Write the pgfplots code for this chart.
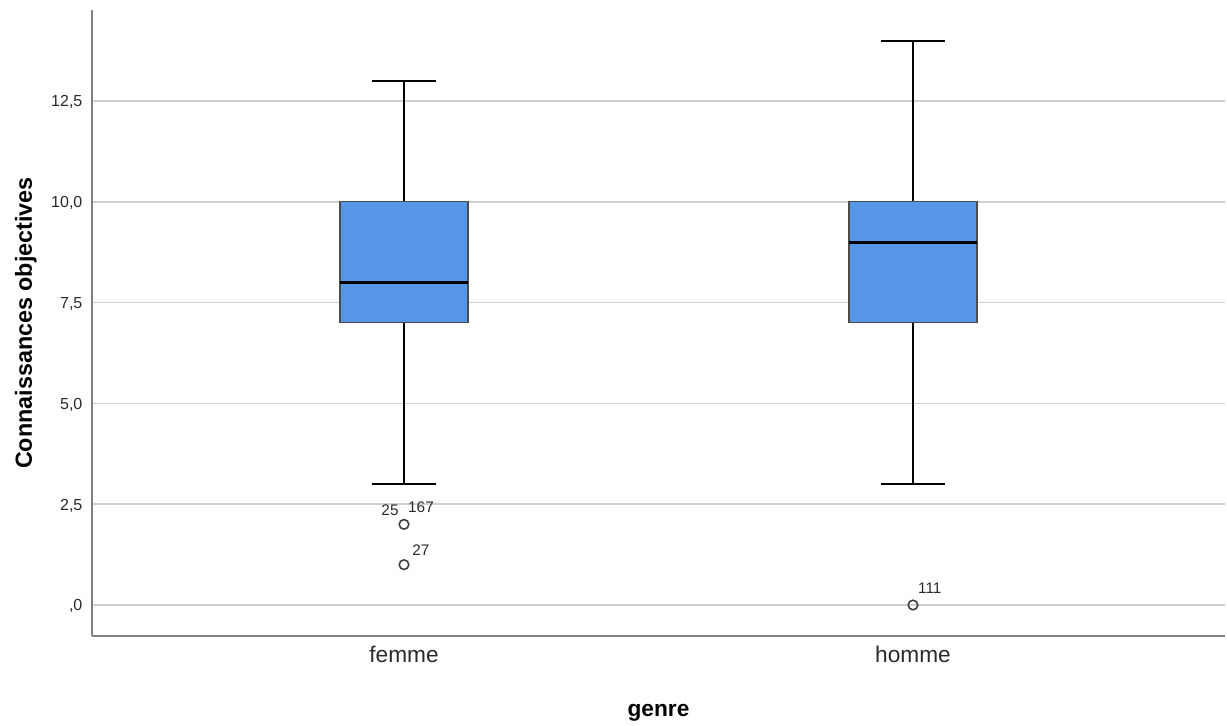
\documentclass[border=0pt]{standalone}
\usepackage{fontspec}
\setmainfont{Liberation Sans}
\usepackage{pgfplots}
\pgfplotsset{compat=1.18}
\usepgfplotslibrary{statistics}
\definecolor{boxblue}{HTML}{5596E6}
\definecolor{gridc}{HTML}{D0D0D0}
\definecolor{axc}{HTML}{808080}
\definecolor{txt}{HTML}{2A2A2A}
\begin{document}
\begin{tikzpicture}
\begin{axis}[
  scale only axis, width=849.75pt, height=469.5pt,
  xmin=0.387, xmax=2.613, ymin=-0.769, ymax=14.757,
  clip=false,
  axis x line*=bottom, axis y line*=left,
  axis line style={axc, line width=1.4pt},
  xtick={1,2}, xticklabels={femme,homme},
  ytick={0,2.5,5,7.5,10,12.5},
  yticklabels={{,0},{2,5},{5,0},{7,5},{10,0},{12,5}},
  major tick length=0pt,
  ymajorgrids, grid style={gridc, line width=1.2pt},
  yticklabel style={font=\fontsize{12}{13}\selectfont, text=txt, xshift=-3.7pt, yshift=-1pt},
  xticklabel style={font=\fontsize{17}{19}\selectfont, text=txt, yshift=-4pt},
  xlabel={genre}, ylabel={Connaissances objectives},
  xlabel style={font=\bfseries\fontsize{17}{18}\selectfont, text=black, at={(axis description cs:0.5,-0.1278)}, anchor=base},
  ylabel style={font=\bfseries\fontsize{17.5}{18}\selectfont, text=black, at={(axis description cs:-0.053,0.5)}, anchor=base},
  boxplot/draw direction=y,
  boxplot/every box/.style={draw=black!70, fill=boxblue, line width=0.9pt},
  boxplot/every whisker/.style={black, line width=1.5pt},
  boxplot/every median/.style={black, line width=2.4pt},
]
\addplot[boxplot prepared={draw position=1, lower whisker=3, lower quartile=7, median=8, upper quartile=10, upper whisker=13, box extend=0.2515, whisker extend=0.1257}] coordinates {};
\addplot[boxplot prepared={draw position=2, lower whisker=3, lower quartile=7, median=9, upper quartile=10, upper whisker=14, box extend=0.2515, whisker extend=0.1257}] coordinates {};
\addplot[only marks, mark=o, mark size=3.6pt, mark options={draw=black!75, line width=1.2pt}] coordinates {(1,2) (1,1) (2,0)};
\node[font=\fontsize{11.5}{12}\selectfont, text=txt] at (axis cs:0.9725,2.356) {25};
\node[font=\fontsize{11.5}{12}\selectfont, text=txt] at (axis cs:1.0334,2.43) {167};
\node[font=\fontsize{11.5}{12}\selectfont, text=txt] at (axis cs:1.033,1.364) {27};
\node[font=\fontsize{11.5}{12}\selectfont, text=txt] at (axis cs:2.033,0.42) {111};
\path (rel axis cs:-0.0812,-0.1374) rectangle (rel axis cs:1.00177,1.016);
\end{axis}
\end{tikzpicture}
\end{document}
